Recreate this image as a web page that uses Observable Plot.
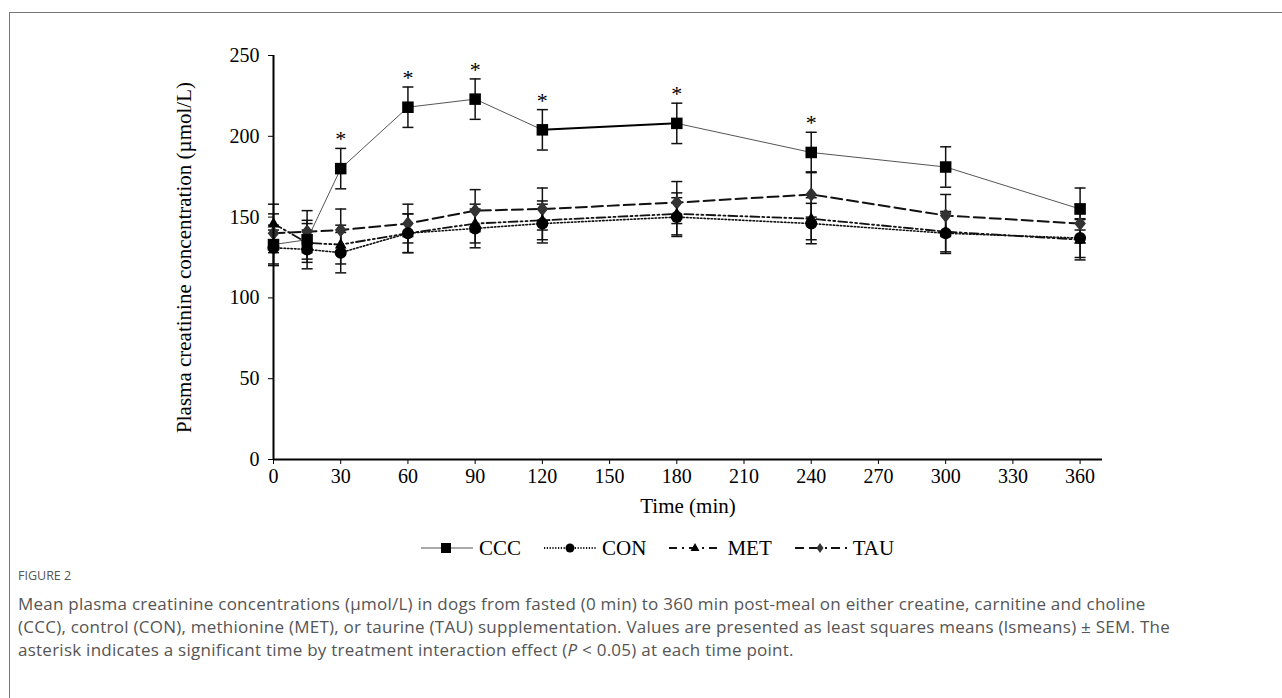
<!DOCTYPE html>
<html>
<head>
<meta charset="utf-8">
<script src="https://cdn.jsdelivr.net/npm/d3@7"></script>
<script src="https://cdn.jsdelivr.net/npm/@observablehq/plot@0.6"></script>
<style>
  html, body { margin: 0; padding: 0; background: #fff; }
  #wrap { position: relative; width: 1282px; height: 698px; overflow: hidden; }
  #frame { position: absolute; left: 9px; top: 12px; width: 1400px; height: 800px; border-left: 1px solid #777; border-top: 1px solid #777; }
  #chart { position: absolute; left: 0; top: 0; }
  #legend { position: absolute; top: 536px; left: 420px; display: flex; font-family: "Liberation Serif", "Times New Roman", serif; font-size: 21px; line-height: 24px; color: #000; }
  .item { display: flex; align-items: center; margin-right: 22px; }
  .item svg { margin-right: 5px; }
  #figlabel { position: absolute; left: 18px; top: 567px; font-family: "Open Sans", sans-serif; font-size: 12.5px; color: #555; }
  #caption { position: absolute; left: 18px; top: 592px; font-family: "Open Sans", sans-serif; font-size: 17px; letter-spacing: 0.25px; line-height: 23px; color: #555; white-space: nowrap; }
</style>
</head>
<body>
<div id="wrap">
  <div id="frame"></div>
  <div id="chart"></div>
  <div id="legend"></div>
  <div id="figlabel">FIGURE 2</div>
  <div id="caption">
    <div>Mean plasma creatinine concentrations (µmol/L) in dogs from fasted (0 min) to 360 min post-meal on either creatine, carnitine and choline</div>
    <div>(CCC), control (CON), methionine (MET), or taurine (TAU) supplementation. Values are presented as least squares means (lsmeans) ± SEM. The</div>
    <div>asterisk indicates a significant time by treatment interaction effect (<i>P</i> &lt; 0.05) at each time point.</div>
  </div>
</div>
<script>
// ---- data ----
const times = [0, 15, 30, 60, 90, 120, 180, 240, 300, 360];
const cccMean = [133, 136, 180, 218, 223, 204, 208, 190, 181, 155];
const conMean = [131, 130, 128, 140, 143, 146, 150, 146, 140, 137];
const metMean = [146, 134, 133, 140, 146, 148, 152, 149, 141, 136];
const tauMean = [140, 141, 142, 146, 154, 155, 159, 164, 151, 146];
const cccSem = [12, 12, 12.5, 12.5, 12.5, 12.5, 12.5, 12.5, 12.5, 13];
const conSem = [11, 12, 12.5, 12, 12, 12, 12, 12.5, 12.5, 12];
const metSem = [12, 12, 12, 12, 12, 12, 13, 13, 12.5, 12.5];
const tauSem = [12, 13, 13, 12, 13, 13, 13, 14, 13, 12];
const sigTimes = [30, 60, 90, 120, 180, 240];
const xTicks = [0, 30, 60, 90, 120, 150, 180, 210, 240, 270, 300, 330, 360];
const yTicks = [0, 50, 100, 150, 200, 250];
const seriesNames = ["CCC", "CON", "MET", "TAU"];

// ---- build table ----
const meansBy = {CCC: cccMean, CON: conMean, MET: metMean, TAU: tauMean};
const semBy = {CCC: cccSem, CON: conSem, MET: metSem, TAU: tauSem};
const rows = [];
for (const s of seriesNames) {
  times.forEach((t, i) => rows.push({series: s, t, v: meansBy[s][i], sem: semBy[s][i]}));
}
const bySeries = s => rows.filter(d => d.series === s);

// CCC segments (120-180 segment drawn heavier as in the original)
const cccSegs = d3.pairs(bySeries("CCC")).map(([a, b]) => ({a, b, heavy: a.t === 120}));

const styles = {
  CCC: {dash: null, width: 1, color: "#444", legendDash: null},
  CON: {dash: "1.5,2", width: 1.6, color: "#111", legendDash: "1.2,1.6"},
  MET: {dash: "9,3,2,3,2,3", width: 1.8, color: "#111", legendDash: "8,5,2,5"},
  TAU: {dash: "11,5", width: 2, color: "#111", legendDash: "9,5,12,4,2,4"}
};

const capSymbol = {
  draw(ctx, size) { const r = Math.sqrt(size / Math.PI); ctx.moveTo(-r, 0); ctx.lineTo(r, 0); }
};
const squareSym = {
  draw(ctx, size) { const r = Math.sqrt(size) / 2; ctx.rect(-r, -r, 2 * r, 2 * r); }
};
const diamondSym = {
  draw(ctx, size) { const r = Math.sqrt(size) / 1.6; ctx.moveTo(0, -r); ctx.lineTo(r * 0.8, 0); ctx.lineTo(0, r); ctx.lineTo(-r * 0.8, 0); ctx.closePath(); }
};
const triSym = {
  draw(ctx, size) { const r = Math.sqrt(size) / 1.5; ctx.moveTo(0, -r); ctx.lineTo(r * 0.9, r * 0.6); ctx.lineTo(-r * 0.9, r * 0.6); ctx.closePath(); }
};

const sigRows = bySeries("CCC").filter(d => sigTimes.includes(d.t));

const marks = [
  // error bars
  Plot.ruleX(rows, {x: "t", y1: d => d.v - d.sem, y2: d => d.v + d.sem, stroke: "#111", strokeWidth: 1.5}),
  Plot.dot(rows, {x: "t", y: d => d.v + d.sem, symbol: capSymbol, r: 5.5, stroke: "#111", strokeWidth: 1.5, fill: "none"}),
  Plot.dot(rows, {x: "t", y: d => d.v - d.sem, symbol: capSymbol, r: 5.5, stroke: "#111", strokeWidth: 1.5, fill: "none"}),
  // lines
  Plot.link(cccSegs, {x1: d => d.a.t, y1: d => d.a.v, x2: d => d.b.t, y2: d => d.b.v, stroke: d => d.heavy ? "#000" : "#555", strokeWidth: d => d.heavy ? 2 : 1}),
  ...["CON", "MET", "TAU"].map(s => Plot.line(bySeries(s), {x: "t", y: "v", stroke: styles[s].color, strokeWidth: styles[s].width, strokeDasharray: styles[s].dash})),
  // markers
  Plot.dot(bySeries("TAU"), {x: "t", y: "v", symbol: diamondSym, r: 5.5, fill: "#333", stroke: "#333"}),
  Plot.dot(bySeries("MET"), {x: "t", y: "v", symbol: triSym, r: 5.5, fill: "#000"}),
  Plot.dot(bySeries("CON"), {x: "t", y: "v", symbol: "circle", r: 6, fill: "#000"}),
  Plot.dot(bySeries("CCC"), {x: "t", y: "v", symbol: squareSym, r: 6.5, fill: "#000"}),
  // asterisks
  Plot.text(sigRows, {x: "t", y: d => d.v + d.sem, text: () => "*", dy: -9, fontSize: 22, fill: "#000", fontFamily: "Liberation Serif"}),
  // axes
  Plot.axisX({ticks: xTicks, tickSize: 5, tickPadding: 4, label: null, fontSize: 20, tickFormat: d => String(d)}),
  Plot.axisY({ticks: yTicks, tickSize: 5, tickPadding: 9, label: null, fontSize: 20}),
  Plot.ruleY([0], {stroke: "#000", strokeWidth: 2}),
  Plot.ruleX([0], {stroke: "#000", strokeWidth: 2}),
  Plot.text(["Time (min)"], {frameAnchor: "bottom", lineAnchor: "middle", dy: 47, fontSize: 21, fontFamily: "Liberation Serif", fill: "#000"}),
  Plot.text(["Plasma creatinine concentration (µmol/L)"], {frameAnchor: "left", textAnchor: "middle", lineAnchor: "middle", dx: -89, rotate: -90, fontSize: 21, fontFamily: "Liberation Serif", fill: "#000"})
];

const chart = Plot.plot({
  width: 1282,
  height: 530,
  marginLeft: 273,
  marginRight: 180,
  marginTop: 55,
  marginBottom: 71,
  x: {domain: [0, 370]},
  y: {domain: [0, 250]},
  style: {fontFamily: "Liberation Serif", fontSize: "20px", color: "#000", background: "transparent"},
  marks
});
document.getElementById("chart").appendChild(chart);

// ---- legend ----
const legendSymbols = {CCC: "square", CON: "circle", MET: "triangle", TAU: "diamond"};
const legend = document.getElementById("legend");
for (const s of seriesNames) {
  const st = styles[s];
  const item = document.createElement("div");
  item.className = "item";
  const ns = "http://www.w3.org/2000/svg";
  const svg = document.createElementNS(ns, "svg");
  svg.setAttribute("width", 54); svg.setAttribute("height", 20);
  const line = document.createElementNS(ns, "line");
  line.setAttribute("x1", 1); line.setAttribute("x2", 53); line.setAttribute("y1", 10); line.setAttribute("y2", 10);
  line.setAttribute("stroke", s === "CCC" ? "#555" : "#111");
  line.setAttribute("stroke-width", s === "CCC" ? 1.2 : 1.8);
  if (st.legendDash) line.setAttribute("stroke-dasharray", st.legendDash);
  svg.appendChild(line);
  const sym = legendSymbols[s];
  let m;
  if (sym === "square") { m = document.createElementNS(ns, "rect"); m.setAttribute("x", 21); m.setAttribute("y", 5); m.setAttribute("width", 10); m.setAttribute("height", 10); }
  else if (sym === "circle") { m = document.createElementNS(ns, "circle"); m.setAttribute("cx", 27); m.setAttribute("cy", 10); m.setAttribute("r", 4.5); }
  else if (sym === "triangle") { m = document.createElementNS(ns, "path"); m.setAttribute("d", "M27,5 L31.5,13 L22.5,13 Z"); }
  else { m = document.createElementNS(ns, "path"); m.setAttribute("d", "M26,5 L29.5,10 L26,15 L22.5,10 Z"); }
  m.setAttribute("fill", s === "TAU" ? "#333" : "#000");
  svg.appendChild(m);
  item.appendChild(svg);
  const label = document.createElement("span");
  label.textContent = s;
  item.appendChild(label);
  legend.appendChild(item);
}
</script>
</body>
</html>
